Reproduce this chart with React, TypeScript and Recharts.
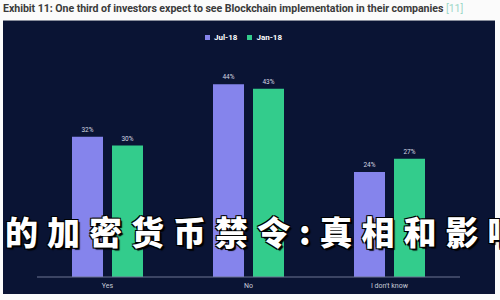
import React from "react";
import { BarChart, Bar, XAxis, YAxis, Legend, LabelList } from "recharts";

const categories = ["Yes", "No", "I don't know"];
const jul18 = [32, 44, 24];
const jan18 = [30, 43, 27];
const seriesNames = ["Jul-18", "Jan-18"];

const data = categories.map((name, i) => ({ name, jul: jul18[i], jan: jan18[i] }));

const PURPLE = "#8584ec";
const GREEN = "#33cc8c";

export default function App() {
    return (
        <div style={{ position: "fixed", left: 0, top: 0, width: 500, height: 300, background: "#fbfbfb", overflow: "hidden" }}>
            <div style={{ position: "absolute", left: 3, top: 2, whiteSpace: "nowrap", fontFamily: "Roboto", fontWeight: 700, fontSize: 10.6, color: "#3a3a3a", letterSpacing: -0.05 }}>
                Exhibit 11: One third of investors expect to see Blockchain implementation in their companies <span style={{ color: "#9ed8c8", fontWeight: 400 }}>[11]</span>
            </div>
            <div style={{ position: "absolute", left: 3, top: 20, width: 492, height: 274, background: "#0a1434", borderTop: "1px solid #8a8f9c", boxSizing: "border-box" }}>
                <BarChart width={492} height={273} data={data} margin={{ top: 11, right: 35, left: 34, bottom: 2 }} barSize={31} barGap={9}>
                    <XAxis
                        dataKey="name"
                        stroke="#6c7592"
                        tickLine={false}
                        tickSize={4}
                        height={15}
                        tick={{ fill: "#c8ccd8", fontSize: 7, fontFamily: "Roboto" }}
                    />
                    <YAxis hide domain={[0, 50]} />
                    <Legend
                        verticalAlign="top"
                        align="center"
                        iconType="square"
                        iconSize={5}
                        itemSorter={(item) => seriesNames.indexOf(item.value)}
                        wrapperStyle={{ paddingBottom: 14, fontSize: 8, fontWeight: 700, fontFamily: "Roboto", lineHeight: "12px" }}
                        formatter={(v) => <span style={{ color: "#ffffff" }}>{v}</span>}
                    />
                    <Bar dataKey="jul" name={seriesNames[0]} fill={PURPLE} isAnimationActive={false}>
                        <LabelList dataKey="jul" position="top" offset={5} fill="#d4d7e2" fontSize={6.5} fontFamily="Roboto" formatter={(v) => `${v}%`} />
                    </Bar>
                    <Bar dataKey="jan" name={seriesNames[1]} fill={GREEN} isAnimationActive={false}>
                        <LabelList dataKey="jan" position="top" offset={5} fill="#d4d7e2" fontSize={6.5} fontFamily="Roboto" formatter={(v) => `${v}%`} />
                    </Bar>
                </BarChart>
            </div>
            <div
                style={{
                    position: "absolute",
                    left: 5,
                    top: 207,
                    whiteSpace: "nowrap",
                    fontFamily: "Noto Sans CJK SC",
                    fontWeight: 900,
                    fontSize: 33,
                    letterSpacing: 9,
                    color: "#ffffff",
                    textShadow: "1px 1px 0 #000, -1px -1px 0 #000, 1px -1px 0 #000, -1px 1px 0 #000, 2px 2px 1px #000",
                }}
            >
                的加密货币禁令:真相和影响
            </div>
        </div>
    );
}
